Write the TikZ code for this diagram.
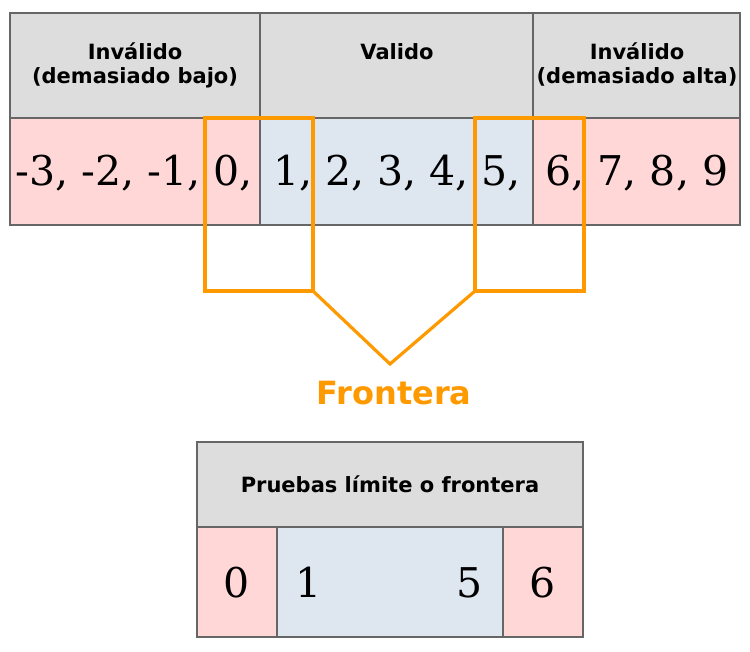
\documentclass[tikz,border=0pt]{standalone}
\usepackage{fontspec}
\setmainfont{DejaVu Serif}
\newfontfamily\hdrfont{DejaVu Sans}
\definecolor{hdrgray}{HTML}{DDDDDD}
\definecolor{invpink}{HTML}{FFD7D7}
\definecolor{valblue}{HTML}{DEE6EF}
\definecolor{bordergray}{HTML}{666666}
\definecolor{front}{HTML}{FF9900}
\tikzset{
  cell/.style={draw=bordergray, line width=1.2pt, inner sep=0pt, outer sep=0pt, anchor=north west},
  hdr/.style={anchor=base, inner sep=0pt, font=\hdrfont\bfseries\fontsize{21}{24}\selectfont},
  num/.style={anchor=base, inner sep=0pt, font=\fontsize{41}{46}\selectfont},
  frbox/.style={draw=front, line width=3.2pt, inner sep=0pt, outer sep=0pt, anchor=north west},
  frline/.style={draw=front, line width=3.2pt, line join=miter},
}
\begin{document}
\begin{tikzpicture}[x=1pt,y=-1pt]
\useasboundingbox (0,0) rectangle (750,652);
% top table
\node[cell, fill=hdrgray, minimum width=250, minimum height=105] (h1) at (10,13) {};
\node[cell, fill=hdrgray, minimum width=273, minimum height=105] (h2) at (260,13) {};
\node[cell, fill=hdrgray, minimum width=207, minimum height=105] (h3) at (533,13) {};
\node[cell, fill=invpink, minimum width=250, minimum height=107] (r1) at (10,118) {};
\node[cell, fill=valblue, minimum width=273, minimum height=107] (r2) at (260,118) {};
\node[cell, fill=invpink, minimum width=207, minimum height=107] (r3) at (533,118) {};
\node[hdr] (t1a) at (135,60) {Inválido};
\node[hdr] (t1b) at (135,84) {(demasiado bajo)};
\node[hdr] (t2) at (397,60) {Valido};
\node[hdr] (t3a) at (637,60) {Inválido};
\node[hdr] (t3b) at (637,84) {(demasiado alta)};
\node[num] (n1) at (134,186) {-3, -2, -1, 0,};
\node[num] (n2) at (397,186) {1, 2, 3, 4, 5,};
\node[num] (n3) at (637,186) {6, 7, 8, 9};
% boundary boxes
\node[frbox, minimum width=108, minimum height=173] (fl) at (205,118) {};
\node[frbox, minimum width=109, minimum height=173] (fr) at (475,118) {};
\coordinate (apex) at (390,364);
\draw[frline] (fl.south east) -- (apex) -- (fr.south west);
\node[anchor=base, inner sep=0pt, text=front, font=\hdrfont\bfseries\fontsize{32}{36}\selectfont] (ft) at (394,404) {Frontera};
% bottom table
\node[cell, fill=hdrgray, minimum width=386, minimum height=85] (bh) at (197,442) {};
\node[cell, fill=invpink, minimum width=80, minimum height=110] (b1) at (197,527) {};
\node[cell, fill=valblue, minimum width=226, minimum height=110] (b2) at (277,527) {};
\node[cell, fill=invpink, minimum width=80, minimum height=110] (b3) at (503,527) {};
\node[hdr] (bt) at (390,492) {Pruebas límite o frontera};
\node[num] (d0) at (237,597) {0};
\node[num] (d1) at (309,597) {1};
\node[num] (d5) at (470,597) {5};
\node[num] (d6) at (543,597) {6};
\end{tikzpicture}
\end{document}
